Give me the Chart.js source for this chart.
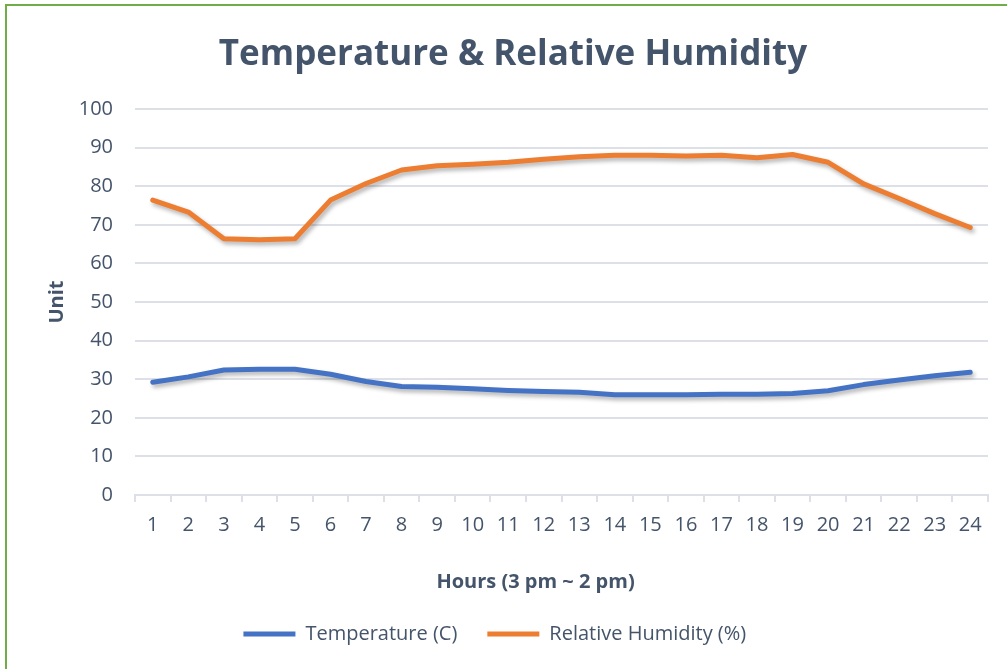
<!DOCTYPE html>
<html>
<head>
<meta charset="utf-8">
<script src="https://cdn.jsdelivr.net/npm/chart.js@4"></script>
<style>
  html, body { margin: 0; padding: 0; background: #fff; overflow: hidden; }
  #frame {
    position: absolute; left: 5px; top: 4px; width: 1100px; height: 800px;
    border-left: 2px solid #70AD47; border-top: 2px solid #70AD47;
  }
  #wrap { position: absolute; left: 0; top: 0; width: 1007px; height: 669px; }
</style>
</head>
<body>
<div id="frame"></div>
<div id="wrap"><canvas id="myChart"></canvas></div>
<script>
const hours = ["1","2","3","4","5","6","7","8","9","10","11","12","13","14","15","16","17","18","19","20","21","22","23","24"];
const temperature = [29.2,30.6,32.4,32.6,32.6,31.3,29.4,28.1,27.9,27.5,27.1,26.8,26.6,26.0,26.0,26.0,26.1,26.1,26.3,27.0,28.6,29.8,30.9,31.8];
const humidity = [76.4,73.3,66.4,66.1,66.4,76.4,80.7,84.2,85.3,85.7,86.2,87.0,87.6,88.0,88.0,87.8,88.0,87.4,88.2,86.2,80.6,76.8,72.9,69.3];
const yTicks = [0,10,20,30,40,50,60,70,80,90,100];

var textColor = "#44546A";
var gridColor = "#DDE1E7";
// trailing blanks nudge centred texts to the left, as in the original
var nudge = function(n) { return "\u00a0".repeat(n); };

// soft drop shadow under the lines, like the office chart
const lineShadow = {
  id: "lineShadow",
  beforeDatasetsDraw(chart) {
    const ctx = chart.ctx;
    ctx.save();
    ctx.shadowColor = "rgba(0,0,0,0.30)";
    ctx.shadowBlur = 4;
    ctx.shadowOffsetX = 2;
    ctx.shadowOffsetY = 3;
  },
  afterDatasetsDraw(chart) {
    chart.ctx.restore();
  }
};

Chart.defaults.font.family = "'Open Sans', sans-serif";
Chart.defaults.color = textColor;

new Chart("myChart", {
  type: "line",
  data: {
    labels: hours,
    datasets: [{
      label: "Temperature (C)",
      data: temperature,
      borderColor: "#4472C4",
      backgroundColor: "#4472C4",
      borderWidth: 5,
      borderCapStyle: "round",
      borderJoinStyle: "round",
      pointRadius: 0,
      tension: 0,
      fill: false
    }, {
      label: "Relative Humidity (%)",
      data: humidity,
      borderColor: "#ED7D31",
      backgroundColor: "#ED7D31",
      borderWidth: 5,
      borderCapStyle: "round",
      borderJoinStyle: "round",
      pointRadius: 0,
      tension: 0,
      fill: false
    }]
  },
  options: {
    responsive: true,
    maintainAspectRatio: false,
    animation: false,
    layout: { padding: { left: 38, right: 19, top: 0, bottom: 15 } },
    plugins: {
      title: {
        display: true,
        text: "Temperature & Relative Humidity",
        color: textColor,
        font: { size: 35, weight: "bold" },
        padding: { top: 34, bottom: 33 }
      },
      legend: {
        position: "bottom",
        labels: {
          usePointStyle: true,
          pointStyle: "line",
          pointStyleWidth: 52,
          boxHeight: 20,
          color: textColor,
          font: { size: 20 },
          padding: 30,
          generateLabels(chart) {
            const items = Chart.defaults.plugins.legend.labels.generateLabels(chart);
            items[items.length - 1].text += nudge(7);
            return items;
          }
        }
      },
      tooltip: { enabled: false }
    },
    scales: {
      x: {
        offset: true,
        grid: {
          offset: true,
          drawOnChartArea: false,
          drawTicks: true,
          tickLength: 7,
          color: gridColor,
          lineWidth: 2
        },
        border: { display: true, color: gridColor, width: 2 },
        ticks: { color: textColor, font: { size: 20 }, padding: 11, maxRotation: 0, autoSkip: false },
        title: {
          display: true,
          text: "Hours (3 pm ~ 2 pm)" + nudge(10),
          color: textColor,
          font: { size: 20, weight: "bold" },
          padding: { top: 22, bottom: 0 }
        }
      },
      y: {
        min: 0,
        max: 100,
        afterBuildTicks(axis) {
          axis.ticks = yTicks.map(v => ({ value: v }));
        },
        afterFit(axis) {
          axis.width = 97;
        },
        grid: { color: gridColor, lineWidth: 2, drawTicks: false },
        border: { display: false },
        ticks: { color: textColor, font: { size: 20 }, padding: 22 },
        title: {
          display: true,
          text: "Unit",
          color: textColor,
          font: { size: 20, weight: "bold" },
          padding: { top: 7, bottom: 0 }
        }
      }
    }
  },
  plugins: [lineShadow]
});
</script>
</body>
</html>
